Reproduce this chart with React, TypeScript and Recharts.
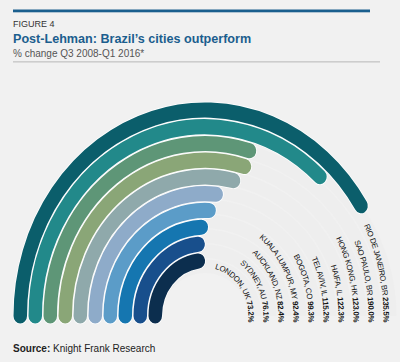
import React from 'react';
import { RadialBarChart, RadialBar, PolarAngleAxis, PolarRadiusAxis, Cell } from 'recharts';

// Data, innermost ring first
const cities = [
  'LONDON, UK',
  'SYDNEY, AU',
  'AUCKLAND, NZ',
  'KUALA LUMPUR, MY',
  'BOGOTA, CO',
  'TEL AVIV, IL',
  'HAIFA, IL',
  'HONG KONG, HK',
  'SAO PAULO, BR',
  'RIO DE JANEIRO, BR',
];
const changes = [73.2, 76.1, 82.4, 92.4, 99.3, 115.2, 122.3, 123.0, 190.0, 235.5];
const colors = [
  '#0c2e4e',
  '#184f8c',
  '#1576b0',
  '#5b9cc8',
  '#8eabc9',
  '#8fa9ab',
  '#8aa677',
  '#5e9677',
  '#22898a',
  '#0b5e6b',
];
const angleTicks = [0, 50, 100, 150, 200, 250, 300, 350];

const rows = cities.map((city, i) => ({ city, value: changes[i] }));

const K = 1.115; // vertical stretch of the rings
const RAD = Math.PI / 180;
const LABEL_FONT = "'Liberation Sans Narrow', 'Arial Narrow', 'Liberation Sans', Arial, sans-serif";

function ellipseArc(cx: number, cy: number, rx: number, ry: number, a0: number, a1: number) {
  const x0 = cx + rx * Math.cos(a0 * RAD);
  const y0 = cy - ry * Math.sin(a0 * RAD);
  const x1 = cx + rx * Math.cos(a1 * RAD);
  const y1 = cy - ry * Math.sin(a1 * RAD);
  const large = Math.abs(a0 - a1) > 180 ? 1 : 0;
  const sweep = a0 > a1 ? 1 : 0;
  return `M${x0},${y0} A${rx},${ry} 0 ${large} ${sweep} ${x1},${y1}`;
}

const stretch = (cy: number) => `translate(0 ${cy}) scale(1 ${K}) translate(0 ${-cy})`;

const BgShape = (props: any) => {
  const { cx, cy, innerRadius, outerRadius, startAngle, endAngle } = props;
  const r = (innerRadius + outerRadius) / 2;
  const d = ellipseArc(cx, cy, r, r, startAngle, endAngle);
  return <path d={d} transform={stretch(cy)} fill="none" stroke="#7d7d7d" strokeWidth={0.6} />;
};

const BarShape = (props: any) => {
  const { cx, cy, innerRadius, outerRadius, startAngle, endAngle, fill, index } = props;
  const r = (innerRadius + outerRadius) / 2;
  const w = outerRadius - innerRadius;
  const d = ellipseArc(cx, cy, r, r, startAngle, endAngle);
  const rb = r - 6.3;
  const phi = Math.asin(Math.min(1, 6 / (K * rb))) / RAD;
  const tp = ellipseArc(cx, cy, rb, rb * K, 110, -phi);
  const id = `ring-label-${index}`;
  return (
    <g>
      <g transform={stretch(cy)}>
        <path d={d} fill="none" stroke="#ffffff" strokeWidth={w + 1.5} strokeLinecap="round" />
        <path d={d} fill="none" stroke={fill} strokeWidth={w} strokeLinecap="round" />
      </g>
      <path id={id} d={tp} fill="none" stroke="none" />
      <text fontSize={7.8} letterSpacing={-0.3} fill="#111" style={{ fontFamily: LABEL_FONT }}>
        <textPath href={`#${id}`} startOffset="100%" textAnchor="end">
          {cities[index]} <tspan fontWeight="bold">{changes[index].toFixed(1)}%</tspan>
        </textPath>
      </text>
    </g>
  );
};

export default function App() {
  return (
    <div
      style={{
        position: 'absolute',
        left: 0,
        top: 0,
        width: 400,
        height: 362,
        background: '#f1f1f1',
        overflow: 'hidden',
      }}
    >
      <div style={{ position: 'absolute', left: 0, top: 0 }}>
        <RadialBarChart
          width={400}
          height={362}
          cx={205}
          cy={316}
          innerRadius={42}
          outerRadius={192}
          startAngle={180}
          endAngle={0}
          data={rows}
          barSize={13.5}
          margin={{ top: 0, right: 0, bottom: 0, left: 0 }}
        >
          <PolarAngleAxis
            type="number"
            domain={[0, 350]}
            ticks={angleTicks}
            tickCount={8}
            allowDataOverflow
            scale="sqrt"
            tick={false}
            axisLine={false}
          />
          <PolarRadiusAxis type="category" dataKey="city" tick={false} axisLine={false} />
          <RadialBar
            dataKey="value"
            isAnimationActive={false}
            background={<BgShape />}
            shape={<BarShape />}
          >
            {rows.map((r, i) => (
              <Cell key={r.city} fill={colors[i]} />
            ))}
          </RadialBar>
        </RadialBarChart>
      </div>
      <svg
        width={400}
        height={362}
        style={{ position: 'absolute', left: 0, top: 0, pointerEvents: 'none' }}
      >
        <rect x={13} y={9.5} width={357} height={2.8} fill="#1a5f8e" />
        <text x={13} y={26.5} fontSize={9} fill="#333" style={{ fontFamily: "'Liberation Sans', Arial, sans-serif" }}>
          FIGURE 4
        </text>
        <text
          x={13}
          y={42.5}
          fontSize={12.6}
          fontWeight="bold"
          fill="#1b5e8e"
          style={{ fontFamily: "'Liberation Sans', Arial, sans-serif" }}
        >
          Post-Lehman: Brazil’s cities outperform
        </text>
        <text x={13} y={56.5} fontSize={10} fill="#555" style={{ fontFamily: "'Liberation Sans', Arial, sans-serif" }}>
          % change Q3 2008-Q1 2016*
        </text>
        <rect x={13} y={61.5} width={367} height={0.8} fill="#aaaaaa" />
        <text x={13} y={352} fontSize={10} fill="#222" style={{ fontFamily: "'Liberation Sans', Arial, sans-serif" }}>
          <tspan fontWeight="bold">Source:</tspan> Knight Frank Research
        </text>
      </svg>
    </div>
  );
}
